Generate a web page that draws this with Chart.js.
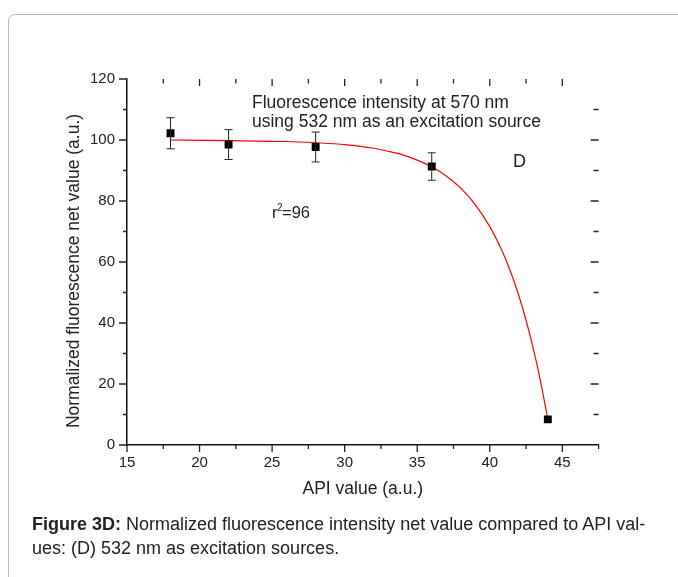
<!DOCTYPE html>
<html>
<head>
<meta charset="utf-8">
<script src="https://cdn.jsdelivr.net/npm/chart.js@4"></script>
<style>
html,body{margin:0;padding:0;background:#fff;}
#wrap{position:relative;width:678px;height:577px;overflow:hidden;background:#fff;}
#frame{position:absolute;left:8px;top:14px;width:700px;height:620px;border:1.5px solid #b8b8b8;border-radius:7px;}
#c{position:absolute;left:0;top:0;}
#cap{position:absolute;left:32px;top:512px;width:645px;font-family:"Liberation Sans",Arial,sans-serif;font-size:18px;line-height:24px;color:#222;white-space:nowrap;}
</style>
</head>
<body>
<div id="wrap">
  <div id="frame"></div>
  <canvas id="c" width="678" height="577"></canvas>
  <div id="cap"><b>Figure 3D:</b> Normalized fluorescence intensity net value compared to API val-<br>ues: (D) 532 nm as excitation sources.</div>
</div>
<script>
// ---- data ----
const apiValues = [18, 22, 28, 36, 44];
const fluorescence = [102.2, 98.5, 97.7, 91.3, 8.4];
const errorValues = [5.1, 4.9, 4.9, 4.5, 0];

// fitted curve
const fitX = [18, 20, 22, 24, 26, 28, 30, 32, 33, 34, 35, 36, 37, 38, 39, 40, 40.5, 41, 41.5, 42, 42.5, 43, 43.5, 44];
const fitY = [100, 99.9, 99.8, 99.6, 99.5, 99.1, 98.5, 97.3, 96.3, 95.1, 93.4, 91.2, 88.2, 84.2, 78.8, 71.6, 67.1, 62.0, 56.0, 49.0, 40.9, 31.6, 20.9, 8.4];

const xTicks = [15, 20, 25, 30, 35, 40, 45];
const xMinorTicks = [17.5, 22.5, 27.5, 32.5, 37.5, 42.5, 47.5];
const yTicks = [0, 20, 40, 60, 80, 100, 120];
const yMinorTicks = [10, 30, 50, 70, 90, 110];

const xTitle = "API value (a.u.)";
const yTitle = "Normalized fluorescence net value (a.u.)";
const noteLine1 = "Fluorescence intensity at 570 nm";
const noteLine2 = "using 532 nm as an excitation source";
const panelLabel = "D";

const FONT = "'Liberation Sans', Arial, sans-serif";
const INK = "#222";

const decorPlugin = {
  id: 'decor',
  afterDatasetsDraw(chart) {
    const ctx = chart.ctx;
    const xs = chart.scales.x, ys = chart.scales.y;
    const a = chart.chartArea;
    ctx.save();
    // error bars
    ctx.strokeStyle = INK;
    ctx.lineWidth = 1;
    apiValues.forEach((xv, i) => {
      const e = errorValues[i];
      if (!e) return;
      const px = xs.getPixelForValue(xv);
      const pt = ys.getPixelForValue(fluorescence[i] + e);
      const pb = ys.getPixelForValue(fluorescence[i] - e);
      ctx.beginPath();
      ctx.moveTo(px, pt); ctx.lineTo(px, pb);
      ctx.moveTo(px - 4, pt); ctx.lineTo(px + 4, pt);
      ctx.moveTo(px - 4, pb); ctx.lineTo(px + 4, pb);
      ctx.stroke();
    });
    // tick marks
    ctx.strokeStyle = INK;
    ctx.lineWidth = 1.3;
    ctx.beginPath();
    xTicks.forEach(v => {
      const px = xs.getPixelForValue(v);
      ctx.moveTo(px, a.bottom); ctx.lineTo(px, a.bottom + 7);
      if (v !== 15) { ctx.moveTo(px, a.top); ctx.lineTo(px, a.top + 7); }
    });
    xMinorTicks.forEach(v => {
      const px = xs.getPixelForValue(v);
      ctx.moveTo(px, a.bottom); ctx.lineTo(px, a.bottom + 4);
      if (v !== 47.5) { ctx.moveTo(px, a.top); ctx.lineTo(px, a.top + 4.5); }
    });
    yTicks.forEach(v => {
      const py = ys.getPixelForValue(v);
      ctx.moveTo(a.left, py); ctx.lineTo(a.left - 8, py);
      if (v !== 0 && v !== 120) { ctx.moveTo(a.right, py); ctx.lineTo(a.right - 8, py); }
    });
    yMinorTicks.forEach(v => {
      const py = ys.getPixelForValue(v);
      ctx.moveTo(a.left, py); ctx.lineTo(a.left - 4, py);
      ctx.moveTo(a.right, py); ctx.lineTo(a.right - 5, py);
    });
    ctx.stroke();

    // texts
    ctx.fillStyle = INK;
    ctx.textBaseline = 'alphabetic';
    ctx.font = "17.5px " + FONT;
    ctx.textAlign = 'center';
    ctx.fillText(xTitle, (a.left + a.right) / 2, 494);
    ctx.save();
    ctx.translate(79, 271);
    ctx.rotate(-Math.PI / 2);
    ctx.fillText(yTitle, 0, 0);
    ctx.restore();

    ctx.textAlign = 'left';
    ctx.font = "17.5px " + FONT;
    ctx.fillText(noteLine1, 252, 108);
    ctx.fillText(noteLine2, 252, 127);

    ctx.font = "18px " + FONT;
    ctx.fillText(panelLabel, 513, 167);

    ctx.font = "16.5px " + FONT;
    ctx.fillText("r", 272, 218);
    const rw = ctx.measureText("r").width;
    ctx.font = "10px " + FONT;
    ctx.fillText("2", 272 + rw - 0.5, 211);
    const sw = ctx.measureText("2").width;
    ctx.font = "16.5px " + FONT;
    ctx.fillText("=96", 272 + rw + sw - 1, 218);
    ctx.restore();
  }
};

new Chart(document.getElementById('c'), {
  type: 'scatter',
  data: {
    datasets: [
      {
        label: 'fit',
        data: fitX.map((x, i) => ({ x: x, y: fitY[i] })),
        showLine: true,
        borderColor: '#ff0000',
        borderWidth: 1.2,
        pointRadius: 0,
        cubicInterpolationMode: 'monotone',
        order: 2
      },
      {
        label: 'data',
        data: apiValues.map((x, i) => ({ x: x, y: fluorescence[i] })),
        showLine: false,
        pointStyle: 'rect',
        pointRadius: 5.6,
        backgroundColor: '#000',
        borderColor: '#000',
        borderWidth: 0,
        order: 1
      }
    ]
  },
  options: {
    responsive: false,
    animation: false,
    devicePixelRatio: 1,
    layout: { padding: { left: 0, top: 79, right: 79.4, bottom: 0 } },
    plugins: { legend: { display: false }, tooltip: { enabled: false } },
    scales: {
      x: {
        type: 'linear', min: 15, max: 47.5,
        afterFit: s => { s.height = 132; },
        afterBuildTicks: s => { s.ticks = xTicks.map(v => ({ value: v })); },
        ticks: { color: INK, font: { family: FONT, size: 15 }, padding: 9, maxRotation: 0, autoSkip: false },
        grid: { display: false, drawTicks: false },
        border: { display: true, color: '#111', width: 1.5 }
      },
      y: {
        type: 'linear', min: 0, max: 120,
        afterFit: s => { s.width = 127; },
        afterBuildTicks: s => { s.ticks = yTicks.map(v => ({ value: v })); },
        ticks: { color: INK, font: { family: FONT, size: 15 }, padding: 12, autoSkip: false },
        grid: { display: false, drawTicks: false },
        border: { display: true, color: '#111', width: 1.5 }
      }
    }
  },
  plugins: [decorPlugin]
});
</script>
</body>
</html>
